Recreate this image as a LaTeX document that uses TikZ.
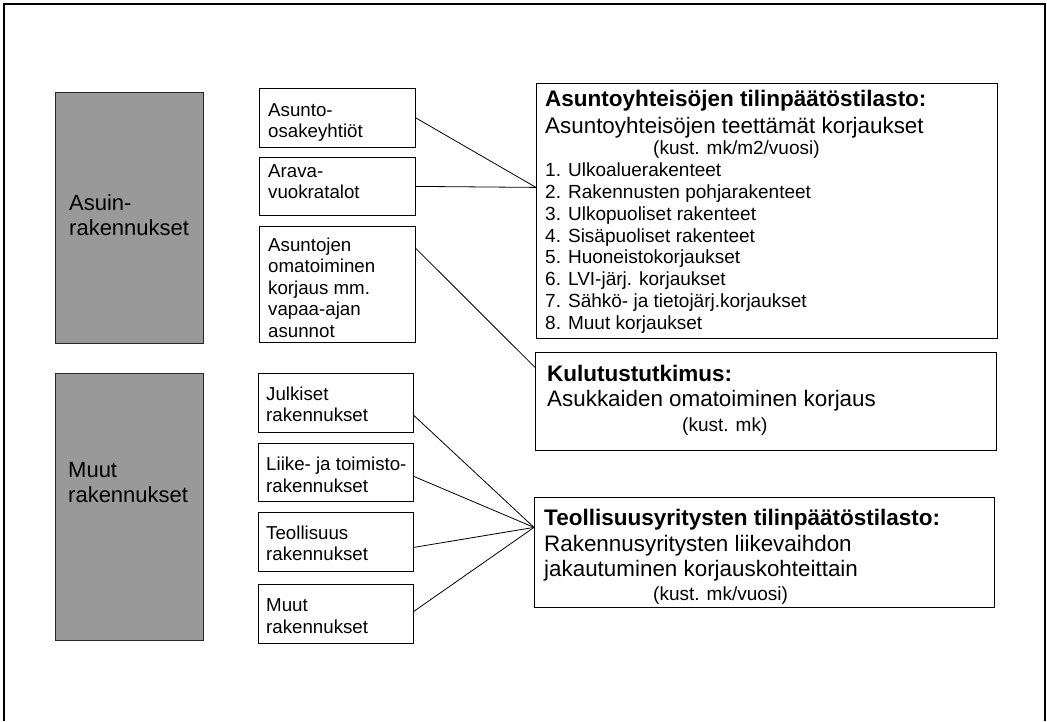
\documentclass[tikz,border=0pt]{standalone}
\usepackage{fontspec}
\setmainfont{Liberation Sans}
\begin{document}
\begin{tikzpicture}[x=1pt,y=-1pt,
  box/.style={draw=black, line width=0.8pt, inner sep=0pt, anchor=north west},
  graybox/.style={draw=black!85, line width=1.2pt, fill=black!40, inner sep=0pt, anchor=north west},
  txt/.style={anchor=base west, inner sep=0pt},
  gtxt/.style={txt, font=\fontsize{22}{25}\selectfont},
  mtxt/.style={txt, font=\fontsize{18.7}{21}\selectfont},
  ttl/.style={txt, font=\fontsize{22.5}{25}\selectfont\bfseries},
  sub/.style={txt, font=\fontsize{22.4}{25}\selectfont},
  itm/.style={txt, font=\fontsize{19}{21}\selectfont},
  conn/.style={draw=black, line width=0.8pt}]
\useasboundingbox (0,0) rectangle (1047,721);
% outer frame
\draw[line width=1.5pt] (4,721) -- (4,4) -- (1045,4) -- (1045,721);

% grey category boxes
\node[graybox, minimum width=148pt, minimum height=251pt] (g1) at (55,92) {};
\node[graybox, minimum width=148pt, minimum height=267pt] (g2) at (55,373) {};
\node[gtxt] (g1a) at (69,210) {Asuin-};
\node[gtxt] (g1b) at (69,235) {rakennukset};
\node[gtxt] (g2a) at (68,477) {Muut};
\node[gtxt] (g2b) at (68,502) {rakennukset};

% middle boxes
\node[box, minimum width=156pt, minimum height=59pt] (a1) at (259,88) {};
\node[box, minimum width=156pt, minimum height=58pt] (a2) at (259,157) {};
\node[box, minimum width=156pt, minimum height=116pt] (a3) at (259,226) {};
\node[box, minimum width=155pt, minimum height=59pt] (b1) at (258,373) {};
\node[box, minimum width=155pt, minimum height=58pt] (b2) at (258,443) {};
\node[box, minimum width=155pt, minimum height=59pt] (b3) at (258,512) {};
\node[box, minimum width=155pt, minimum height=59pt] (b4) at (258,584) {};

\node[mtxt] (a1a) at (268,116) {Asunto-};
\node[mtxt] (a1b) at (268,137) {osakeyhtiöt};
\node[mtxt] (a2a) at (268,177) {Arava-};
\node[mtxt] (a2b) at (268,198.5) {vuokratalot};
\node[mtxt] (a3a) at (268,251) {Asuntojen};
\node[mtxt] (a3b) at (268,272.5) {omatoiminen};
\node[mtxt] (a3c) at (268,294) {korjaus mm.};
\node[mtxt] (a3d) at (268,315.5) {vapaa-ajan};
\node[mtxt] (a3e) at (268,337) {asunnot};

\node[mtxt] (b1a) at (266,400) {Julkiset};
\node[mtxt] (b1b) at (266,421.5) {rakennukset};
\node[mtxt] (b2a) at (266,470.5) {Liike- ja toimisto-};
\node[mtxt] (b2b) at (266,492) {rakennukset};
\node[mtxt] (b3a) at (266,539) {Teollisuus};
\node[mtxt] (b3b) at (266,560.5) {rakennukset};
\node[mtxt] (b4a) at (266,611.5) {Muut};
\node[mtxt] (b4b) at (266,633) {rakennukset};

% right boxes
\node[box, minimum width=461pt, minimum height=255pt] (r1) at (536,83) {};
\node[box, minimum width=461pt, minimum height=98pt] (r2) at (535,352) {};
\node[box, minimum width=460pt, minimum height=110pt] (r3) at (534,497) {};

\node[ttl] (r1t) at (545,106) {Asuntoyhteisöjen tilinpäätöstilasto:};
\node[sub] (r1s) at (545,133) {Asuntoyhteisöjen teettämät korjaukset};
\node[itm] (r1k) at (653,154) {(kust. mk/m2/vuosi)};
\node[itm] (r1i1) at (545,176.7) {1. Ulkoaluerakenteet};
\node[itm] (r1i2) at (545,198.5) {2. Rakennusten pohjarakenteet};
\node[itm] (r1i3) at (545,220.3) {3. Ulkopuoliset rakenteet};
\node[itm] (r1i4) at (545,242.1) {4. Sisäpuoliset rakenteet};
\node[itm] (r1i5) at (545,263.9) {5. Huoneistokorjaukset};
\node[itm] (r1i6) at (545,285.7) {6. LVI-järj. korjaukset};
\node[itm] (r1i7) at (545,307.5) {7. Sähkö- ja tietojärj.korjaukset};
\node[itm] (r1i8) at (545,329.3) {8. Muut korjaukset};

\node[ttl] (r2t) at (547,381.7) {Kulutustutkimus:};
\node[sub] (r2s) at (547,406.7) {Asukkaiden omatoiminen korjaus};
\node[itm] (r2k) at (682,431.7) {(kust. mk)};

\node[ttl] (r3t) at (544,525) {Teollisuusyritysten tilinpäätöstilasto:};
\node[sub] (r3s) at (544,551.5) {Rakennusyritysten liikevaihdon};
\node[sub] (r3u) at (544,576) {jakautuminen korjauskohteittain};
\node[itm] (r3k) at (653,600.7) {(kust. mk/vuosi)};

% connectors
\draw[conn] (a1.east) -- ([yshift=23.5pt]r1.west);
\draw[conn] (a2.east) -- ([yshift=23.5pt]r1.west);
\draw[conn] ([yshift=36pt]a3.east) -- ([yshift=34pt]r2.west);
\draw[conn] ([yshift=-12.5pt]b1.east) -- ([yshift=25pt]r3.west);
\draw[conn] ([yshift=-4pt]b2.east) -- ([yshift=25pt]r3.west);
\draw[conn] ([yshift=-5.5pt]b3.east) -- ([yshift=25pt]r3.west);
\draw[conn] ([yshift=2.5pt]b4.east) -- ([yshift=25pt]r3.west);
\end{tikzpicture}
\end{document}
